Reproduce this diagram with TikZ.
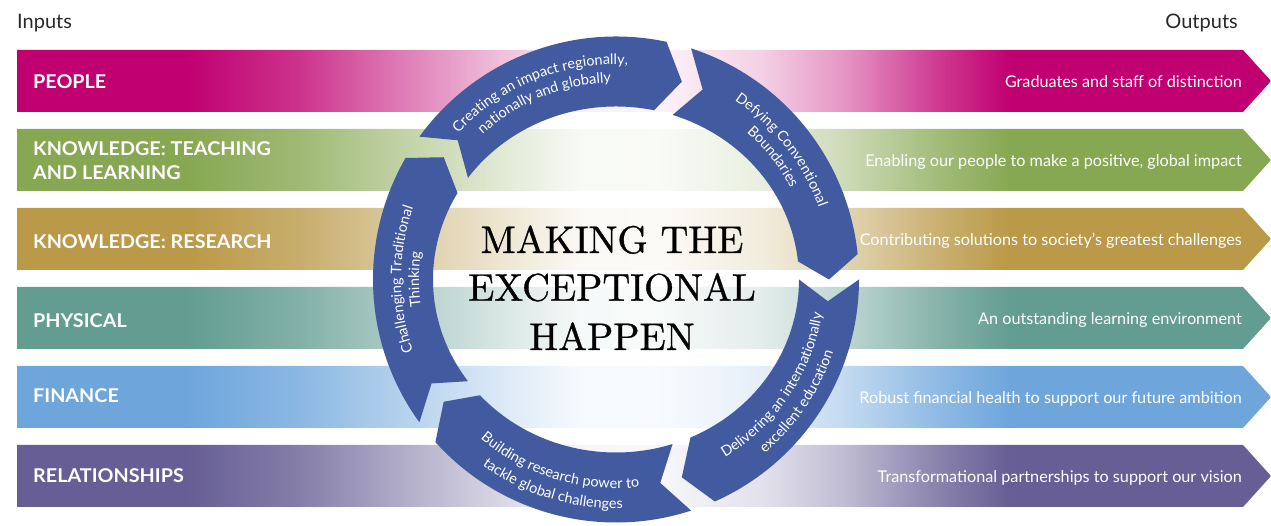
\documentclass[tikz,border=0pt]{standalone}
\usepackage{fontspec}
\newfontfamily\latofont{Lato}
\newfontfamily\titlefont{lmroman10-regular.otf}[FakeBold=0.8]
\usetikzlibrary{decorations.text}

\definecolor{bandPeople}{RGB}{192,0,112}
\definecolor{bandTeach}{RGB}{135,168,82}
\definecolor{bandResearch}{RGB}{186,153,72}
\definecolor{bandPhysical}{RGB}{99,157,146}
\definecolor{bandFinance}{RGB}{110,166,220}
\definecolor{bandRelation}{RGB}{102,94,148}
\definecolor{cycleBlue}{RGB}{66,90,160}
\definecolor{labelGrey}{RGB}{40,40,40}

% strong colour at both ends, fading to white towards the centre
\newcommand\declarebandshading[2]{%
  \pgfdeclarehorizontalshading{#1}{100bp}{color(0bp)=(#2); color(31.78bp)=(#2); color(36.28bp)=(#2!80!white); color(40.27bp)=(#2!52!white); color(44.26bp)=(#2!25!white); color(47.45bp)=(#2!6!white); color(50.64bp)=(#2!5!white); color(54.63bp)=(#2!18!white); color(57.81bp)=(#2!40!white); color(61.8bp)=(#2!78!white); color(64.59bp)=(#2); color(100bp)=(#2)}}
\declarebandshading{peopleshade}{bandPeople}
\declarebandshading{teachshade}{bandTeach}
\declarebandshading{researchshade}{bandResearch}
\declarebandshading{physicalshade}{bandPhysical}
\declarebandshading{financeshade}{bandFinance}
\declarebandshading{relationshade}{bandRelation}

\newcommand\arcfont{\latofont\fontsize{14.5}{17}\selectfont\color{white}}

\tikzset{
  bandlabel/.style={text=white, font=\latofont\bfseries\fontsize{19}{22}\selectfont, anchor=base west, inner sep=0pt, xscale=1.04},
  outlabel/.style={text=white, font=\latofont\fontsize{16.2}{19}\selectfont, anchor=base east, inner sep=0pt},
  headlabel/.style={text=labelGrey, font=\latofont\fontsize{20}{24}\selectfont, inner sep=0pt},
  titleline/.style={font=\titlefont\fontsize{38.5}{46}\selectfont, anchor=base, inner sep=0pt, text=black},
  arctext/.style={decorate, decoration={text along path, text align=center, text={|\arcfont|#1}}},
  cycleseg/.style={fill=cycleBlue}
}

\begin{document}
\begin{tikzpicture}[x=1pt, y=1pt]
\useasboundingbox (0,0) rectangle (1271,526);

% input/output bands
\shade[shading=peopleshade]   (17,476) -- (1243,476) -- (1271,445) -- (1243,414) -- (17,414) -- cycle;
\shade[shading=teachshade]    (17,397) -- (1243,397) -- (1271,366) -- (1243,335) -- (17,335) -- cycle;
\shade[shading=researchshade] (17,318) -- (1243,318) -- (1271,287) -- (1243,256) -- (17,256) -- cycle;
\shade[shading=physicalshade] (17,239) -- (1243,239) -- (1271,208) -- (1243,177) -- (17,177) -- cycle;
\shade[shading=financeshade]  (17,160) -- (1243,160) -- (1271,129) -- (1243,98)  -- (17,98)  -- cycle;
\shade[shading=relationshade] (17,81)  -- (1243,81)  -- (1271,50)  -- (1243,19)  -- (17,19)  -- cycle;

% headings
\node[headlabel, anchor=base west] (inputs) at (17,497) {Inputs};
\node[headlabel, anchor=base east] (outputs) at (1238,497) {Outputs};

% inputs
\node[bandlabel] (inPeople)    at (33,437.7) {PEOPLE};
\node[bandlabel] (inTeach)     at (33,370)   {KNOWLEDGE: TEACHING};
\node[bandlabel] (inTeachB)    at (33,346.7) {AND LEARNING};
\node[bandlabel] (inResearch)  at (33,277.7) {KNOWLEDGE: RESEARCH};
\node[bandlabel] (inPhysical)  at (33,198.7) {PHYSICAL};
\node[bandlabel] (inFinance)   at (33,123.3) {FINANCE};
\node[bandlabel] (inRelations) at (33,43.3)  {RELATIONSHIPS};

% outputs
\node[outlabel] (outPeople)    at (1242,438.2) {Graduates and staff of distinction};
\node[outlabel] (outTeach)     at (1242,359.2) {Enabling our people to make a positive, global impact};
\node[outlabel] (outResearch)  at (1242,280.2) {Contributing solutions to society’s greatest challenges};
\node[outlabel] (outPhysical)  at (1242,201.2) {An outstanding learning environment};
\node[outlabel] (outFinance)   at (1242,122.2) {Robust financial health to support our future ambition};
\node[outlabel] (outRelations) at (1242,43.2)  {Transformational partnerships to support our vision};

% cycle of five chevron arcs
\begin{scope}[shift={(616,246.5)}]
  \foreach \T in {144,72,0,-72,-144}{
    \fill[cycleseg] (\T:243) arc[start angle=\T, end angle=\T-66, radius=243]
      -- (\T-72:213 and 208) -- (\T-66:183 and 173)
      arc[start angle=\T-66, end angle=\T, x radius=183, y radius=173]
      -- (\T-6:213 and 208) -- cycle;
  }
  % clockwise captions (letters facing outwards)
  \path[arctext={Creating an impact regionally,}] (152:215) arc[start angle=152, end angle=72, radius=215];
  \path[arctext={nationally and globally}] (152:197) arc[start angle=152, end angle=72, radius=197];
  \path[arctext={Defying Conventional}] (78:215) arc[start angle=78, end angle=-2, radius=215];
  \path[arctext={Boundaries}] (78:197) arc[start angle=78, end angle=-2, radius=197];
  \path[arctext={Challenging Traditional}] (220:215) arc[start angle=220, end angle=140, radius=215];
  \path[arctext={Thinking}] (220:197) arc[start angle=220, end angle=140, radius=197];
  % anticlockwise captions (letters facing inwards)
  \path[arctext={Delivering an internationally}] (-74:209) arc[start angle=-74, end angle=6, radius=209];
  \path[arctext={excellent education}] (-74:229) arc[start angle=-74, end angle=6, radius=229];
  \path[arctext={Building research power to}] (-147:209) arc[start angle=-147, end angle=-67, radius=209];
  \path[arctext={tackle global challenges}] (-147:229) arc[start angle=-147, end angle=-67, radius=229];
\end{scope}

% centre statement
\node[titleline] (titleA) at (612,273) {MAKING THE};
\node[titleline] (titleB) at (612,225.3) {EXCEPTIONAL};
\node[titleline] (titleC) at (612,176) {HAPPEN};
\end{tikzpicture}
\end{document}
